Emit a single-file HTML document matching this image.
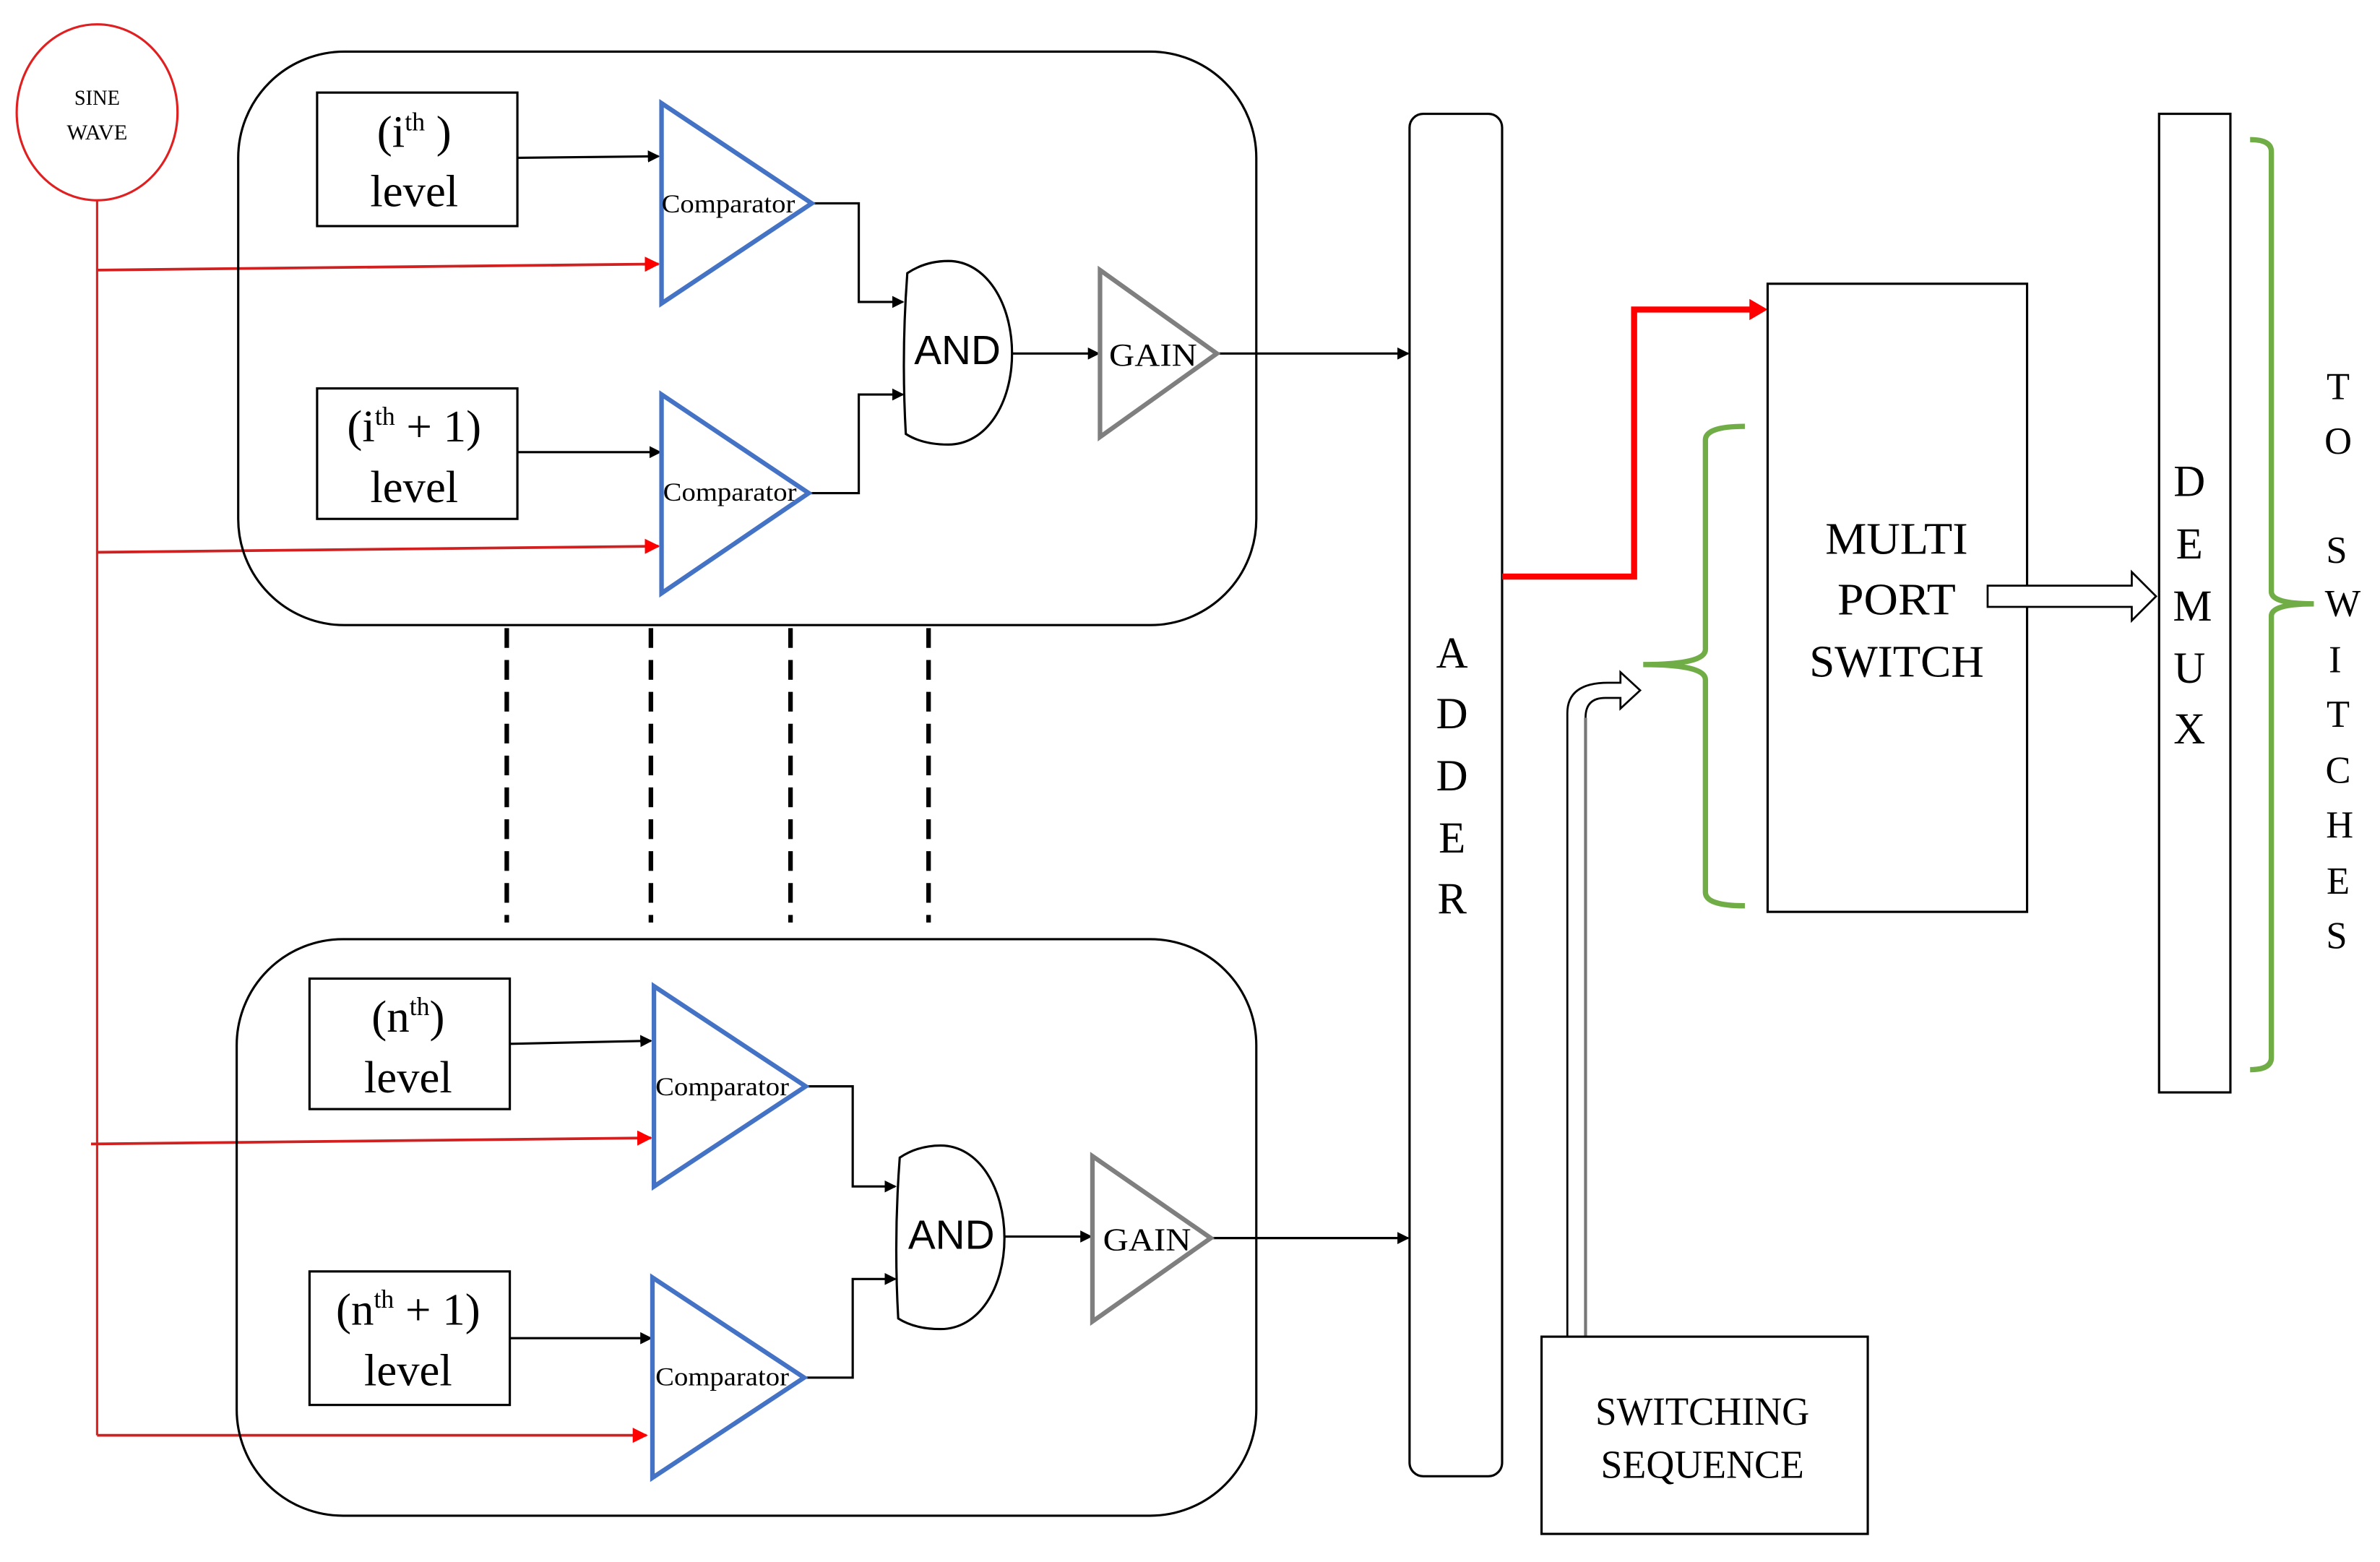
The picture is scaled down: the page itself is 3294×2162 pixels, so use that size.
<!DOCTYPE html>
<html><head><meta charset="utf-8"><style>html,body{margin:0;padding:0;background:#fff}svg{display:block}</style></head>
<body>
<svg width="3294" height="2162" viewBox="0 0 1568.6 1029.5" xmlns="http://www.w3.org/2000/svg" font-family="Liberation Serif, serif">
<defs>
<marker id="ab" markerWidth="8" markerHeight="8" refX="7" refY="4" orient="auto" markerUnits="userSpaceOnUse"><path d="M0,0 L8,4 L0,8 z" fill="#000"/></marker>
<marker id="ar" markerWidth="10" markerHeight="10" refX="9" refY="5" orient="auto" markerUnits="userSpaceOnUse"><path d="M0,0 L10,5 L0,10 z" fill="#f00"/></marker>
</defs>
<rect width="1568.6" height="1029.5" fill="#fff"/>
<!-- sine -->
<ellipse cx="64" cy="74" rx="53" ry="58" fill="none" stroke="#e02020" stroke-width="1.5"/>
<text x="64" y="69" font-size="14" text-anchor="middle" textLength="30" lengthAdjust="spacingAndGlyphs">SINE</text>
<text x="64" y="92" font-size="14" text-anchor="middle" textLength="40" lengthAdjust="spacingAndGlyphs">WAVE</text>
<line x1="64" y1="132" x2="64" y2="946" stroke="#e02020" stroke-width="1.5"/>
<g stroke="#d02020" stroke-width="1.8" marker-end="url(#ar)">
<line x1="64" y1="178" x2="434" y2="174"/>
<line x1="64" y1="364" x2="434" y2="360"/>
<line x1="60" y1="754" x2="429" y2="750"/>
<line x1="64" y1="946" x2="426" y2="946"/>
</g>
<!-- containers -->
<rect x="157" y="34" width="671" height="378" rx="70" fill="none" stroke="#000" stroke-width="1.5"/>
<rect x="156" y="619" width="672" height="380" rx="70" fill="none" stroke="#000" stroke-width="1.5"/>
<!-- level boxes -->
<g fill="none" stroke="#000" stroke-width="1.5">
<rect x="209" y="61" width="132" height="88"/>
<rect x="209" y="256" width="132" height="86"/>
<rect x="204" y="645" width="132" height="86"/>
<rect x="204" y="838" width="132" height="88"/>
</g>
<g font-size="30" text-anchor="middle">
<text x="273" y="97">(i<tspan font-size="17" dy="-11">th</tspan><tspan dy="11"> )</tspan></text>
<text x="273" y="136" textLength="58" lengthAdjust="spacingAndGlyphs">level</text>
<text x="273" y="291">(i<tspan font-size="17" dy="-11">th</tspan><tspan dy="11"> + 1)</tspan></text>
<text x="273" y="331" textLength="58" lengthAdjust="spacingAndGlyphs">level</text>
<text x="269" y="680">(n<tspan font-size="17" dy="-11">th</tspan><tspan dy="11">)</tspan></text>
<text x="269" y="720" textLength="58" lengthAdjust="spacingAndGlyphs">level</text>
<text x="269" y="873">(n<tspan font-size="17" dy="-11">th</tspan><tspan dy="11"> + 1)</tspan></text>
<text x="269" y="913" textLength="58" lengthAdjust="spacingAndGlyphs">level</text>
</g>
<!-- black arrows to comparators -->
<g stroke="#000" stroke-width="1.5" marker-end="url(#ab)" fill="none">
<line x1="341" y1="104" x2="434" y2="103"/>
<line x1="341" y1="298" x2="435" y2="298"/>
<line x1="336" y1="688" x2="429" y2="686"/>
<line x1="336" y1="882" x2="429" y2="882"/>
<polyline points="535,134 566,134 566,199 595,199"/>
<polyline points="533,325 566,325 566,260 595,260"/>
<polyline points="531,716 562,716 562,782 590,782"/>
<polyline points="530,908 562,908 562,843 590,843"/>
<line x1="667" y1="233" x2="724" y2="233"/>
<line x1="662" y1="815" x2="719" y2="815"/>
<line x1="802" y1="233" x2="928" y2="233"/>
<line x1="798" y1="816" x2="928" y2="816"/>
</g>
<!-- comparators -->
<g fill="none" stroke="#4472c4" stroke-width="3">
<polygon points="436,68 436,200 535,134"/>
<polygon points="436,260 436,391 533,325"/>
<polygon points="431,650 431,782 531,716"/>
<polygon points="430,842 430,974 530,908"/>
</g>
<g font-size="17">
<text x="436" y="140" textLength="88" lengthAdjust="spacingAndGlyphs">Comparator</text>
<text x="437" y="330" textLength="88" lengthAdjust="spacingAndGlyphs">Comparator</text>
<text x="432" y="722" textLength="88" lengthAdjust="spacingAndGlyphs">Comparator</text>
<text x="432" y="913" textLength="88" lengthAdjust="spacingAndGlyphs">Comparator</text>
</g>
<!-- AND gates -->
<g fill="none" stroke="#000" stroke-width="1.5">
<path d="M598,180 Q610,172 625,172 C650,172 667,200 667,233 C667,266 650,293 625,293 Q608,293 597,286 Q594,233 598,180 z"/>
<path d="M593,763 Q605,755 620,755 C645,755 662,783 662,816 C662,849 645,876 620,876 Q603,876 592,869 Q589,816 593,763 z"/>
</g>
<text x="631" y="240" font-family="Liberation Sans, sans-serif" font-size="27" text-anchor="middle">AND</text>
<text x="627" y="823" font-family="Liberation Sans, sans-serif" font-size="27" text-anchor="middle">AND</text>
<!-- GAIN -->
<g fill="none" stroke="#7f7f7f" stroke-width="3">
<polygon points="725,178 725,288 802,233"/>
<polygon points="720,762 720,871 798,816"/>
</g>
<text x="731" y="241" font-size="21" textLength="58" lengthAdjust="spacingAndGlyphs">GAIN</text>
<text x="727" y="824" font-size="21" textLength="58" lengthAdjust="spacingAndGlyphs">GAIN</text>
<!-- dashed -->
<g stroke="#000" stroke-width="3" stroke-dasharray="13,8">
<line x1="334" y1="414" x2="334" y2="608"/>
<line x1="429" y1="414" x2="429" y2="608"/>
<line x1="521" y1="414" x2="521" y2="608"/>
<line x1="612" y1="414" x2="612" y2="608"/>
</g>
<!-- adder -->
<rect x="929" y="75" width="61" height="898" rx="9" fill="none" stroke="#000" stroke-width="1.5"/>
<g font-size="29" text-anchor="middle">
<text x="957" y="440">A</text><text x="957" y="480">D</text><text x="957" y="521">D</text><text x="957" y="562">E</text><text x="957" y="602">R</text>
</g>
<!-- red thick -->
<polyline points="990,380 1077,380 1077,204 1155,204" fill="none" stroke="#f00" stroke-width="4"/>
<path d="M1153,197 L1165,204 L1153,211 z" fill="#f00"/>
<!-- multiport -->
<rect x="1165" y="187" width="171" height="414" fill="none" stroke="#000" stroke-width="1.5"/>
<g font-size="30" text-anchor="middle">
<text x="1250" y="365" textLength="94" lengthAdjust="spacingAndGlyphs">MULTI</text>
<text x="1250" y="405" textLength="78" lengthAdjust="spacingAndGlyphs">PORT</text>
<text x="1250" y="446" textLength="115" lengthAdjust="spacingAndGlyphs">SWITCH</text>
</g>
<!-- green braces -->
<g fill="none" stroke="#70ad47" stroke-width="3.5">
<path d="M1150,281 Q1124,281 1124,290 L1124,428 Q1124,438 1083,438 Q1124,438 1124,448 L1124,588 Q1124,597 1150,597"/>
<path d="M1483,92 Q1497,92 1497,100 L1497,390 Q1497,398 1525,398 Q1497,398 1497,406 L1497,697 Q1497,705 1483,705"/>
</g>
<!-- hollow bent arrow -->
<path d="M1033,881 L1033,470 Q1033,450 1060,450 L1068,450 L1068,443 L1081,455 L1068,467 L1068,460 L1058,460 Q1045,460 1045,473 L1045,881" fill="#fff" stroke="#000" stroke-width="1.3"/>
<line x1="1045" y1="473" x2="1045" y2="881" stroke="#777" stroke-width="2"/>
<!-- switching sequence -->
<rect x="1016" y="881" width="215" height="130" fill="none" stroke="#000" stroke-width="1.5"/>
<g font-size="26" text-anchor="middle">
<text x="1122" y="939" textLength="141" lengthAdjust="spacingAndGlyphs">SWITCHING</text>
<text x="1122" y="974" textLength="134" lengthAdjust="spacingAndGlyphs">SEQUENCE</text>
</g>
<!-- block arrow -->
<path d="M1310,386 L1405,386 L1405,377 L1421,393 L1405,409 L1405,400 L1310,400 z" fill="#fff" stroke="#000" stroke-width="1.3"/>
<!-- demux -->
<rect x="1423" y="75" width="47" height="645" fill="none" stroke="#000" stroke-width="1.5"/>
<g font-size="29" text-anchor="middle">
<text x="1443" y="327">D</text><text x="1443" y="368">E</text><text x="1445" y="409">M</text><text x="1443" y="450">U</text><text x="1443" y="490">X</text>
</g>
<g font-size="25" text-anchor="middle">
<text x="1541" y="263">T</text><text x="1541" y="299">O</text><text x="1540" y="371">S</text><text x="1544" y="406">W</text><text x="1539" y="443">I</text><text x="1541" y="479">T</text><text x="1541" y="516">C</text><text x="1542" y="552">H</text><text x="1541" y="589">E</text><text x="1540" y="625">S</text>
</g>
</svg>
</body></html>
